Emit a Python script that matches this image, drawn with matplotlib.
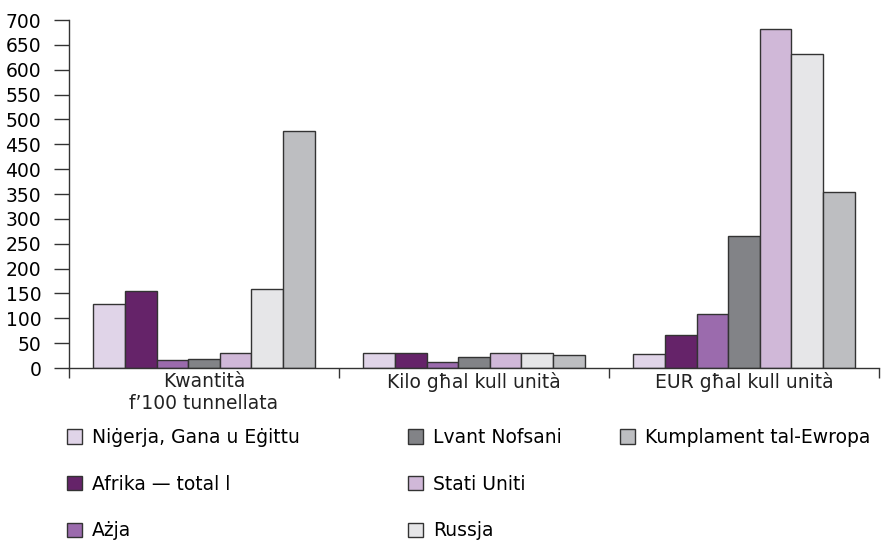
import matplotlib.pyplot as plt
from matplotlib.patches import Patch
import numpy as np

groups = ["Kwantità\nf’100 tunnellata", "Kilo għal kull unità", "EUR għal kull unità"]
series = ["Niġerja, Gana u Eġittu", "Afrika — total l", "Ażja", "Lvant Nofsani",
          "Stati Uniti", "Russja", "Kumplament tal-Ewropa"]
colors = ["#e0d4e8", "#652369", "#9b6bad", "#828387", "#d0b8d8", "#e6e6e8", "#bdbec1"]

# one list per series: [Kwantità, Kilo, EUR]
nigerja = [128, 31, 28]
afrika = [154, 31, 66]
azja = [16, 12, 108]
lvant = [19, 23, 266]
stati = [31, 31, 681]
russja = [158, 31, 632]
kumplament = [477, 27, 355]
values = [nigerja, afrika, azja, lvant, stati, russja, kumplament]

plt.rcParams['font.family'] = ['DejaVu Sans']
plt.rcParams['font.size'] = 13.5

fig = plt.figure(figsize=(8.95, 5.45), dpi=100)
ax = fig.add_axes([69 / 895, (545 - 368) / 545, (879 - 69) / 895, 348 / 545])

n = len(series)
width = 0.82 / n
x = np.arange(len(groups)) + 0.5
for i, vals in enumerate(values):
    ax.bar(x - 0.41 + width * (i + 0.5), vals, width, color=colors[i],
           edgecolor="#333333", linewidth=1.0, label=series[i])

ax.set_xlim(0, 3)
ax.set_ylim(0, 700)
ax.set_yticks(range(0, 701, 50))
ax.set_xticks([0, 1, 2, 3])
ax.set_xticklabels([])
ax.tick_params(axis='y', length=11, width=1, pad=9, color="#333333")
ax.tick_params(axis='x', length=7, width=1, color="#333333")
ax.spines['top'].set_visible(False)
ax.spines['right'].set_visible(False)
for s in ['left', 'bottom']:
    ax.spines[s].set_color("#333333")
    ax.spines[s].set_linewidth(1)

for xi, g in zip(x, groups):
    ax.text(xi, -8, g, ha='center', va='top', color="#222222", linespacing=1.2)

handles = [Patch(facecolor=c, edgecolor="#333333", linewidth=1) for c in colors]
columns = [(0, 3, 67), (3, 6, 408), (6, 7, 620)]
for start, stop, px in columns:
    fig.legend(handles[start:stop], series[start:stop], loc='upper left',
               bbox_to_anchor=(px / 895, 1 - 428 / 545), frameon=False,
               handlelength=0.8, handleheight=0.8, handletextpad=0.55,
               labelspacing=1.48, borderpad=0, borderaxespad=0)

fig.savefig("out.png", dpi=100)
